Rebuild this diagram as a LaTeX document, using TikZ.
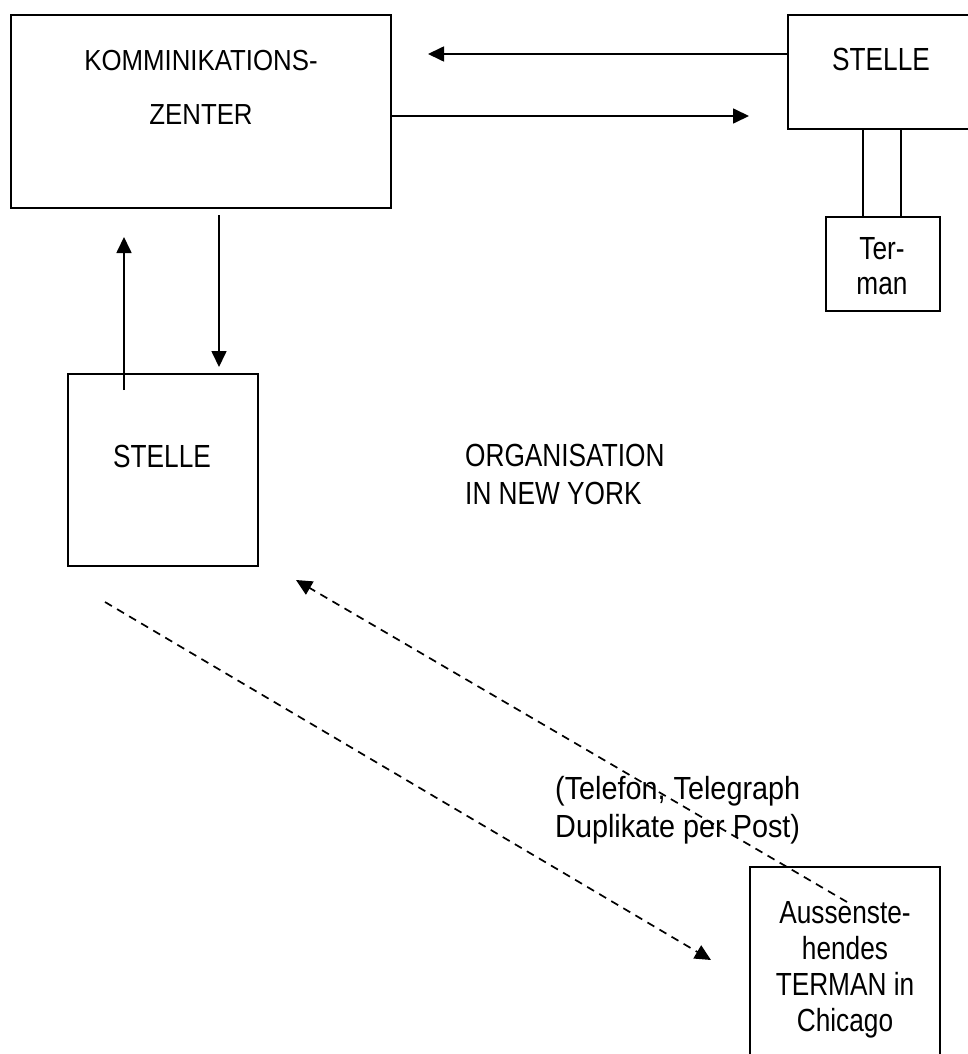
\documentclass[tikz,border=0pt]{standalone}
\usepackage{fontspec}
\setmainfont{Liberation Sans}
\newfontfamily\narrowA[FakeStretch=0.89]{Liberation Sans}
\newfontfamily\narrowB[FakeStretch=0.82]{Liberation Sans}
\newfontfamily\narrowC[FakeStretch=0.9]{Liberation Sans}
\usetikzlibrary{arrows.meta}
\begin{document}
\begin{tikzpicture}[x=1pt,y=-1pt,
  box/.style={draw, line width=1.7pt, inner sep=0pt, anchor=north west},
  ftA/.style={font=\narrowA\fontsize{29}{54}\selectfont, align=center, inner sep=0pt},
  ftB/.style={font=\narrowB\fontsize{32}{38}\selectfont, inner sep=0pt},
  arr/.style={line width=1.7pt, -{Triangle[length=16pt,width=15pt]}},
  plain/.style={line width=1.7pt},
  dline/.style={line width=1.7pt, dash pattern=on 8pt off 6pt, -{Triangle[length=16pt,width=15pt]}}]
\useasboundingbox (0,0) rectangle (968,1054);

% boxes
\node[box, minimum width=380pt, minimum height=193pt] (komm) at (10,14) {};
\node[box, minimum width=200pt, minimum height=114pt] (stelleR) at (787,14) {};
\node[box, minimum width=114pt, minimum height=94pt] (terman) at (825,216) {};
\node[box, minimum width=190pt, minimum height=192pt] (stelleL) at (67,373) {};
\node[box, minimum width=190pt, minimum height=220pt] (chicago) at (749,866) {};

% texts
\node[ftA] (kommtxt) at (201,87) {KOMMINIKATIONS-\\ZENTER};
\node[ftB] (stelleRtxt) at (881,59) {STELLE};
\node[ftB, align=center, font=\narrowB\fontsize{32}{35}\selectfont] (termantxt) at (882,266) {Ter-\\man};
\node[ftB] (stelleLtxt) at (162,456) {STELLE};
\node[ftB, align=left, anchor=west] (orgtxt) at (465,474) {ORGANISATION\\IN NEW YORK};
\node[ftB, align=left, anchor=west, font=\narrowC\fontsize{32}{38}\selectfont] (teltxt) at (555,810) {(Telefon, Telegraph\\Duplikate per Post)};
\node[ftB, align=center, font=\narrowB\fontsize{32}{36}\selectfont] (chicagotxt) at (845,970) {Aussenste-\\hendes\\TERMAN in\\Chicago};

% horizontal arrows
\coordinate (a1e) at (428,54);
\draw[arr] (stelleR.west |- a1e) -- (a1e);
\coordinate (a2e) at (749,116);
\draw[arr] (komm.east |- a2e) -- (a2e);

% double line to Terman
\coordinate (v1) at (863,0);
\coordinate (v2) at (901,0);
\draw[plain] (stelleR.south -| v1) -- (terman.north -| v1);
\draw[plain] (stelleR.south -| v2) -- (terman.north -| v2);

% vertical arrows
\coordinate (u1s) at (124,390);
\coordinate (u1e) at (124,237);
\draw[arr] (u1s) -- (u1e);
\coordinate (d1s) at (219,215);
\coordinate (d1e) at (219,367);
\draw[arr] (d1s) -- (d1e);

% dashed arrows
\coordinate (ds1) at (105,602);
\coordinate (de1) at (711,960);
\draw[dline] (ds1) -- (de1);
\coordinate (ds2) at (847,902);
\coordinate (de2) at (296,580);
\draw[dline] (ds2) -- (de2);
\end{tikzpicture}
\end{document}
